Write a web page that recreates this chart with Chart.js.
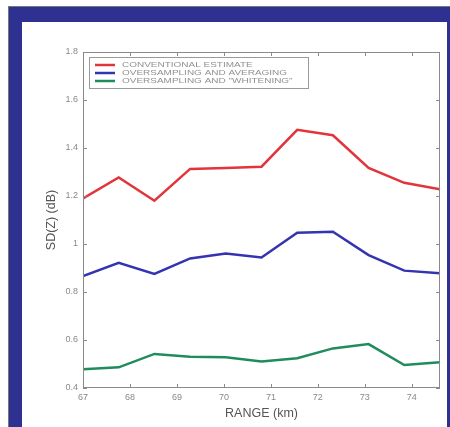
<!DOCTYPE html>
<html>
<head>
<meta charset="utf-8">
<script src="https://cdn.jsdelivr.net/npm/chart.js@4.4.0/dist/chart.umd.min.js"></script>
<style>
  html, body { margin: 0; padding: 0; background: #ffffff; width: 450px; height: 427px; overflow: hidden; }
  #frame { position: absolute; left: 8px; top: 6px; width: 441px; height: 421px;
           background: #2e3192; border-left: 1px solid #777; border-top: 1px solid #777; }
  #inner { position: absolute; left: 22px; top: 22px; width: 425px; height: 405px; background: #ffffff; }
  canvas { display: block; }
</style>
</head>
<body>
<div id="frame"></div>
<div id="inner"><canvas id="c" width="425" height="405"></canvas></div>
<script>
const ranges = [67, 67.76, 68.52, 69.28, 70.04, 70.8, 71.56, 72.32, 73.08, 73.84, 74.6];
const conventional = [1.19, 1.277, 1.18, 1.313, 1.317, 1.322, 1.476, 1.453, 1.317, 1.255, 1.228];
const averaging = [0.866, 0.922, 0.875, 0.940, 0.960, 0.944, 1.047, 1.051, 0.954, 0.889, 0.878];
const whitening = [0.478, 0.486, 0.542, 0.530, 0.528, 0.510, 0.524, 0.565, 0.583, 0.496, 0.507];
const seriesLabels = ['CONVENTIONAL ESTIMATE', 'OVERSAMPLING AND AVERAGING', 'OVERSAMPLING AND "WHITENING"'];
const seriesColors = ['#e2343a', '#3434b0', '#1f8c5e'];
const xTicks = [67, 68, 69, 70, 71, 72, 73, 74];
const yTicks = [0.4, 0.6, 0.8, 1, 1.2, 1.4, 1.6, 1.8];
const xTitle = 'RANGE (km)';
const yTitle = 'SD(Z) (dB)';

function pts(vals) { return vals.map((v, i) => ({ x: ranges[i], y: v })); }

const boxPlugin = {
  id: 'box',
  afterDatasetsDraw(chart) {
    const { ctx, chartArea: a, scales } = chart;
    ctx.save();
    ctx.strokeStyle = '#8a8a8a';
    ctx.lineWidth = 1;
    ctx.strokeRect(a.left + 0.5, a.top + 0.5, a.right - a.left - 1, a.bottom - a.top - 1);
    const L = 4;
    ctx.beginPath();
    xTicks.forEach(t => {
      const x = Math.round(scales.x.getPixelForValue(t)) + 0.5;
      ctx.moveTo(x, a.bottom); ctx.lineTo(x, a.bottom - L);
      ctx.moveTo(x, a.top); ctx.lineTo(x, a.top + L);
    });
    yTicks.forEach(t => {
      const y = Math.round(scales.y.getPixelForValue(t)) + 0.5;
      ctx.moveTo(a.left, y); ctx.lineTo(a.left + L, y);
      ctx.moveTo(a.right, y); ctx.lineTo(a.right - L, y);
    });
    ctx.stroke();
    // legend
    const lx = a.left + 6, ly = a.top + 5, lw = 219, lh = 31;
    ctx.fillStyle = '#ffffff';
    ctx.fillRect(lx, ly, lw, lh);
    ctx.strokeStyle = '#9a9a9a';
    ctx.strokeRect(lx + 0.5, ly + 0.5, lw, lh);
    ctx.textBaseline = 'middle';
    chart.data.datasets.forEach((ds, i) => {
      const yy = ly + 8 + i * 8;
      ctx.strokeStyle = ds.borderColor;
      ctx.lineWidth = 2.5;
      ctx.beginPath(); ctx.moveTo(lx + 6, yy); ctx.lineTo(lx + 26, yy); ctx.stroke();
      ctx.save();
      ctx.translate(lx + 33, yy);
      ctx.scale(1.28, 1);
      ctx.font = '7.8px "Liberation Sans", Arial, sans-serif';
      ctx.fillStyle = '#909090';
      ctx.fillText(ds.label, 0, 0);
      ctx.restore();
    });
    ctx.restore();
  }
};

new Chart(document.getElementById('c'), {
  type: 'line',
  data: {
    datasets: [
      { label: seriesLabels[0], data: pts(conventional), borderColor: seriesColors[0] },
      { label: seriesLabels[1], data: pts(averaging), borderColor: seriesColors[1] },
      { label: seriesLabels[2], data: pts(whitening), borderColor: seriesColors[2] }
    ]
  },
  options: {
    responsive: false,
    animation: false,
    layout: { padding: { top: 30, right: 7, left: 0, bottom: 0 } },
    elements: { line: { borderWidth: 2.5, tension: 0 }, point: { radius: 0 } },
    plugins: { legend: { display: false }, tooltip: { enabled: false } },
    scales: {
      x: {
        type: 'linear', min: 67, max: 74.6,
        afterBuildTicks(s) { s.ticks = xTicks.map(v => ({ value: v })); },
        afterFit(s) { s.height = 39; },
        grid: { display: false, drawTicks: false },
        border: { display: false },
        ticks: { color: '#888', font: { size: 9, family: '"Liberation Sans", Arial' }, padding: 4, maxRotation: 0, autoSkip: false,
                 callback: v => String(v) },
        title: { display: true, text: xTitle, color: '#555', font: { size: 12.5, family: '"Liberation Sans", Arial' }, padding: { top: 0, bottom: 6 } }
      },
      y: {
        min: 0.4, max: 1.8,
        afterBuildTicks(s) { s.ticks = yTicks.map(v => ({ value: v })); },
        afterFit(s) { s.width = 61; },
        grid: { display: false, drawTicks: false },
        border: { display: false },
        ticks: { color: '#888', font: { size: 9, family: '"Liberation Sans", Arial' }, padding: 5, autoSkip: false,
                 callback: v => String(Math.round(v * 10) / 10) },
        title: { display: true, text: yTitle, color: '#555', font: { size: 12.5, family: '"Liberation Sans", Arial' }, padding: { top: 22, bottom: 0 } }
      }
    }
  },
  plugins: [boxPlugin]
});
</script>
</body>
</html>
